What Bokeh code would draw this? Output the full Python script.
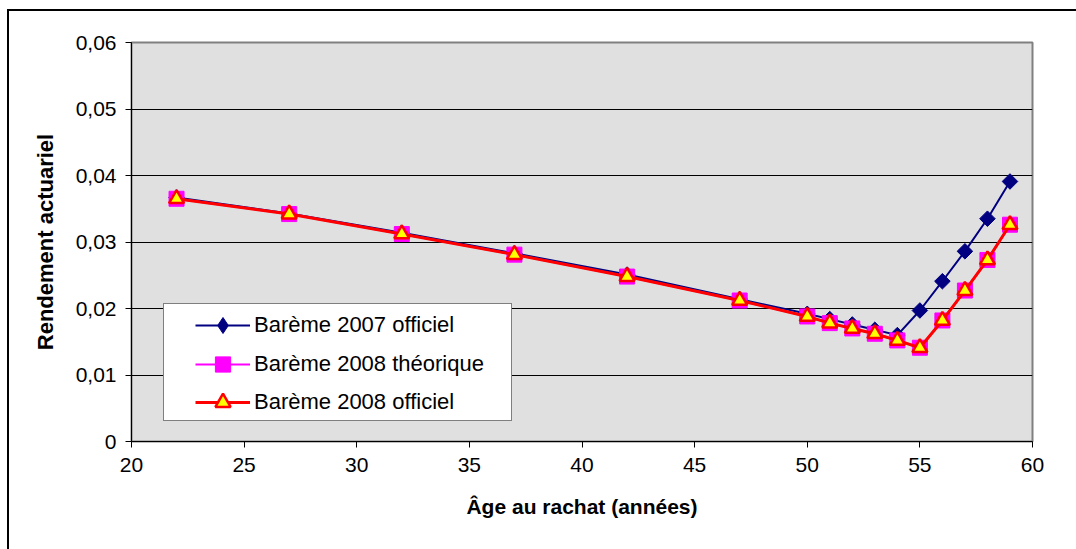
import math
from bokeh.plotting import figure
from bokeh.models import Range1d, FixedTicker, Legend, LegendItem
from bokeh.embed import file_html
from bokeh.resources import INLINE

ages = [22, 27, 32, 37, 42, 47, 50, 51, 52, 53, 54, 55, 56, 57, 58, 59]
bareme_2007_officiel = [0.0367, 0.0343, 0.0314, 0.0283, 0.0251, 0.0214, 0.0192, 0.0184,
                        0.0176, 0.0168, 0.0160, 0.0197, 0.0241, 0.0286, 0.0335, 0.0391]
bareme_2008_theorique = [0.0365, 0.0342, 0.0312, 0.0281, 0.0248, 0.0212, 0.0188, 0.0178,
                         0.0170, 0.0162, 0.0152, 0.0141, 0.0182, 0.0227, 0.0273, 0.0326]
bareme_2008_officiel = [0.0365, 0.0342, 0.0312, 0.0281, 0.0248, 0.0212, 0.0188, 0.0178,
                        0.0170, 0.0162, 0.0152, 0.0141, 0.0182, 0.0227, 0.0273, 0.0326]

x_ticks = [20, 25, 30, 35, 40, 45, 50, 55, 60]
y_ticks = [0, 0.01, 0.02, 0.03, 0.04, 0.05, 0.06]
y_tick_labels = ["0", "0,01", "0,02", "0,03", "0,04", "0,05", "0,06"]
series_names = ["Barème 2007 officiel", "Barème 2008 théorique", "Barème 2008 officiel"]

FONT = "Liberation Sans"

p = figure(width=1076, height=549, output_backend="svg", toolbar_location=None,
           x_range=Range1d(20, 60), y_range=Range1d(0, 0.06),
           min_border_left=131, min_border_right=44, min_border_top=42, min_border_bottom=108)

# outer chart border (only top and left edges are inside the picture)
p.styles = {
    "background-color": "white",
    "background-image": "linear-gradient(#000, #000), linear-gradient(#000, #000)",
    "background-position": "7px 9px, 7px 9px",
    "background-size": "2px 100%, 100% 2px",
    "background-repeat": "no-repeat",
}

p.background_fill_color = "#E0E0E0"
p.border_fill_color = "white"
p.border_fill_alpha = 0
p.outline_line_color = "#808080"
p.outline_line_width = 2

p.xgrid.grid_line_color = None
p.ygrid.grid_line_color = "black"
p.ygrid.grid_line_width = 1

p.xaxis.ticker = FixedTicker(ticks=x_ticks)
p.yaxis.ticker = FixedTicker(ticks=y_ticks)
p.yaxis.major_label_overrides = {t: l for t, l in zip(y_ticks, y_tick_labels)}

for ax in (p.xaxis, p.yaxis):
    ax.axis_line_color = "black"
    ax.axis_line_width = 1
    ax.major_tick_line_color = "black"
    ax.major_tick_in = 0
    ax.major_tick_out = 6
    ax.minor_tick_line_color = None
    ax.major_label_text_font = FONT
    ax.major_label_text_font_size = "21px"
    ax.major_label_text_color = "black"
    ax.axis_label_text_font = FONT
    ax.axis_label_text_font_size = "21px"
    ax.axis_label_text_font_style = "bold"
    ax.axis_label_text_color = "black"

p.yaxis.axis_label_text_font_size = "22px"
p.xaxis.axis_label = "Âge au rachat (années)"
p.yaxis.axis_label = "Rendement actuariel"
p.xaxis.major_label_standoff = 10
p.yaxis.major_label_standoff = 9
p.xaxis.axis_label_standoff = 20
p.yaxis.axis_label_standoff = 15

l1 = p.line(ages, bareme_2007_officiel, line_color="#000080", line_width=2)
# diamond key for the legend; drawn under the rotated squares, so hidden in the plot
m1_key = p.scatter(ages, bareme_2007_officiel, marker="diamond", size=13,
                   fill_color="#000080", line_color="#000080")
m1 = p.scatter(ages, bareme_2007_officiel, marker="square", angle=math.pi / 4, size=11,
               fill_color="#000080", line_color="#000080")
l2 = p.line(ages, bareme_2008_theorique, line_color="#FF00FF", line_width=2)
m2 = p.scatter(ages, bareme_2008_theorique, marker="square", size=15,
               fill_color="#FF00FF", line_color="#FF00FF")
l3 = p.line(ages, bareme_2008_officiel, line_color="#FF0000", line_width=3)
m3 = p.scatter(ages, bareme_2008_officiel, marker="triangle", size=15,
               fill_color="#FFFF00", line_color="#FF0000", line_width=2.5)

blank = p.line(x=[], y=[], line_alpha=0)

# legend box
box = Legend(items=[LegendItem(label=" ", renderers=[blank])], location=(32, 20))
box.padding = 0
box.glyph_width = 347
box.glyph_height = 116
box.label_height = 1
box.label_width = 0
box.label_standoff = 0
box.label_text_font_size = "1px"
box.border_line_color = "black"
box.border_line_width = 1
box.background_fill_color = "white"
box.background_fill_alpha = 1
p.add_layout(box, "center")


def item_legend(items, glyph_h, loc):
    lg = Legend(items=items, location=loc)
    lg.padding = 0
    lg.spacing = 0
    lg.glyph_width = 55
    lg.glyph_height = glyph_h
    lg.label_height = glyph_h
    lg.label_standoff = 4
    lg.label_text_font = FONT
    lg.label_text_font_size = "22px"
    lg.label_text_color = "black"
    lg.border_line_color = None
    lg.background_fill_alpha = 0
    return lg


p.add_layout(item_legend([LegendItem(label=series_names[0], renderers=[l1, m1_key])],
                         40, (64, 96)), "center")
p.add_layout(item_legend([LegendItem(label=series_names[1], renderers=[l2, m2]),
                          LegendItem(label=series_names[2], renderers=[l3, m3])],
                         38, (64, 20)), "center")

open("out.html", "w").write(file_html(p, INLINE))
